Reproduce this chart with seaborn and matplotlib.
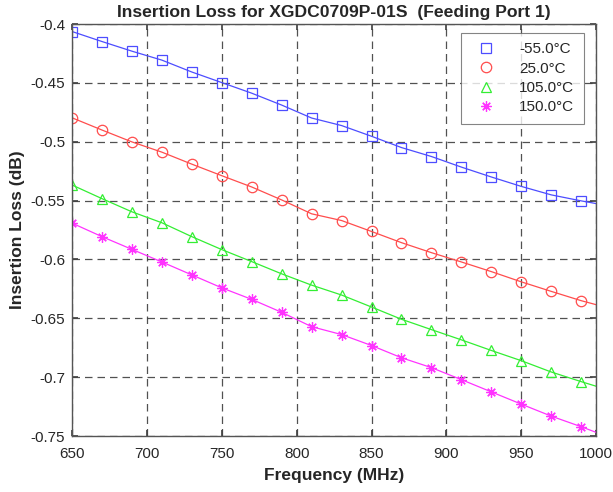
import numpy as np
import pandas as pd
import seaborn as sns
import matplotlib
matplotlib.use("Agg")
import matplotlib.pyplot as plt
from matplotlib.lines import Line2D

freq = [650, 670, 690, 710, 730, 750, 770, 790, 810, 830, 850, 870, 890, 910, 930, 950, 970, 990, 1000]
loss_m55 = [-0.4063, -0.4148, -0.4230, -0.4306, -0.4407, -0.4497, -0.4587, -0.4688, -0.4798, -0.4862,
            -0.4953, -0.5049, -0.5125, -0.5215, -0.5299, -0.5379, -0.5451, -0.5502, -0.5525]
loss_25 = [-0.4796, -0.4900, -0.5001, -0.5088, -0.5190, -0.5288, -0.5384, -0.5494, -0.5612, -0.5669,
           -0.5762, -0.5857, -0.5942, -0.6021, -0.6103, -0.6190, -0.6271, -0.6350, -0.6384]
loss_105 = [-0.5367, -0.5483, -0.5595, -0.5688, -0.5806, -0.5916, -0.6018, -0.6122, -0.6218, -0.6302,
            -0.6404, -0.6508, -0.6596, -0.6683, -0.6773, -0.6860, -0.6956, -0.7038, -0.7077]
loss_150 = [-0.5691, -0.5806, -0.5914, -0.6021, -0.6131, -0.6241, -0.6339, -0.6449, -0.6571, -0.6638,
            -0.6731, -0.6835, -0.6919, -0.7021, -0.7125, -0.7229, -0.7331, -0.7421, -0.7469]
labels = ["-55.0\u00b0C", "25.0\u00b0C", "105.0\u00b0C", "150.0\u00b0C"]
colors = ["#4d4dff", "#ff4d4d", "#33ee33", "#ff33ff"]
markers = ["s", "o", "^", (8, 2, 0)]
xticks = [650, 700, 750, 800, 850, 900, 950, 1000]
yticks = [-0.75, -0.7, -0.65, -0.6, -0.55, -0.5, -0.45, -0.4]

sns.set_theme(style="white")
plt.rcParams['font.family'] = ['Liberation Sans', 'DejaVu Sans']

fig = plt.figure(figsize=(6.13, 4.92), dpi=100)
ax = fig.add_axes([0.1175, 0.1138, 0.855, 0.8372])

series = [loss_m55, loss_25, loss_105, loss_150]
handles = []
for vals, lab, col, mk in zip(series, labels, colors, markers):
    df = pd.DataFrame({"f": freq, "v": vals})
    sns.lineplot(data=df, x="f", y="v", ax=ax, color=col, linewidth=0.9, legend=False)
    dm = df[df["f"] < 1000]
    ax.plot(dm["f"], dm["v"], linestyle="none", marker=mk, markersize=7.5,
            markerfacecolor="none", markeredgecolor=col, markeredgewidth=0.9)
    handles.append(Line2D([], [], linestyle="none", marker=mk, markersize=7.5,
                          markerfacecolor="none", markeredgecolor=col, markeredgewidth=0.9, label=lab))

ax.set_xlim(650, 1000)
ax.set_ylim(-0.75, -0.4)
ax.set_xticks(xticks)
ax.set_yticks(yticks)
ax.set_xticklabels([str(x) for x in xticks], fontsize=11)
ax.set_yticklabels([f"{y:g}" for y in yticks], fontsize=11)
ax.grid(True, color="#333333", linestyle=(0, (6, 4)), linewidth=0.9, alpha=0.85)
ax.tick_params(axis="x", which="both", direction="in", length=4, color="#444444",
               bottom=True, top=True, pad=8)
ax.tick_params(axis="y", which="both", direction="in", length=4, color="#444444",
               left=True, right=True, pad=5)
for s in ax.spines.values():
    s.set_color("#555555")
    s.set_linewidth(1.0)

ax.set_xlabel("Frequency (MHz)", fontsize=12.5, fontweight="bold", labelpad=5)
ax.set_ylabel("Insertion Loss (dB)", fontsize=12.5, fontweight="bold", labelpad=4)
ax.set_title("Insertion Loss for XGDC0709P-01S  (Feeding Port 1)", fontsize=12.6, fontweight="bold", pad=5)

leg = ax.legend(handles=handles, loc="upper right", bbox_to_anchor=(0.976, 0.978), fontsize=11,
                frameon=True, fancybox=False, edgecolor="#666666", handletextpad=1.2,
                borderpad=0.6, labelspacing=0.35, handlelength=2.0, borderaxespad=0.0)
leg.get_frame().set_linewidth(0.8)

fig.savefig("out.png", dpi=100, facecolor="white")
